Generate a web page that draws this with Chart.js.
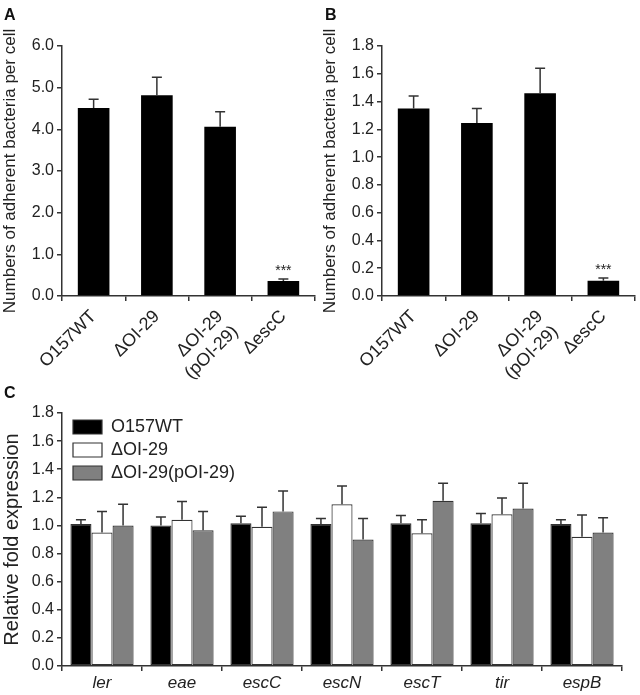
<!DOCTYPE html>
<html>
<head>
<meta charset="utf-8">
<script src="https://cdn.jsdelivr.net/npm/chart.js@4/dist/chart.umd.min.js"></script>
<style>
  body { margin: 0; background: #fff; }
  #wrap { position: relative; width: 640px; height: 695px; background: #fff; font-family: "Liberation Sans", Arial, sans-serif; }
  canvas { position: absolute; }
  .panel { position: absolute; font-weight: bold; font-size: 16px; line-height: 1; color: #111; }
</style>
</head>
<body>
<div id="wrap">
  <canvas id="chartA" width="320" height="380" style="left:0;top:0"></canvas>
  <canvas id="chartB" width="320" height="380" style="left:320px;top:0"></canvas>
  <canvas id="chartC" width="640" height="315" style="left:0;top:380px"></canvas>
  <div class="panel" style="left:4px;top:7px">A</div>
  <div class="panel" style="left:325px;top:7px">B</div>
  <div class="panel" style="left:4px;top:385px">C</div>
</div>
<script>
// ----- DATA -----
const strainsAB = ['O157WT', 'ΔOI-29', ['ΔOI-29', '(pOI-29)'], 'ΔescC'];
const adhesionA = [4.51, 4.82, 4.06, 0.36];
const errorA = [0.21, 0.43, 0.36, 0.05];
const adhesionB = [1.35, 1.245, 1.46, 0.11];
const errorB = [0.09, 0.105, 0.18, 0.02];
const markAB = ['', '', '', '***'];
const yTicksA = [0, 1, 2, 3, 4, 5, 6];
const yTicksB = [0, 0.2, 0.4, 0.6, 0.8, 1.0, 1.2, 1.4, 1.6, 1.8];

const genes = ['ler', 'eae', 'escC', 'escN', 'escT', 'tir', 'espB'];
const seriesNames = ['O157WT', 'ΔOI-29', 'ΔOI-29(pOI-29)'];
const wtExpr = [1.01, 1.00, 1.015, 1.01, 1.015, 1.015, 1.01];
const wtErr = [0.03, 0.06, 0.05, 0.04, 0.055, 0.07, 0.03];
const delExpr = [0.95, 1.04, 0.99, 1.15, 0.945, 1.08, 0.92];
const delErr = [0.15, 0.13, 0.14, 0.13, 0.095, 0.115, 0.155];
const compExpr = [1.00, 0.965, 1.10, 0.90, 1.175, 1.12, 0.95];
const compErr = [0.15, 0.135, 0.145, 0.15, 0.125, 0.18, 0.105];
const yTicksC = [0, 0.2, 0.4, 0.6, 0.8, 1.0, 1.2, 1.4, 1.6, 1.8];

const FONT = '"Liberation Sans", Arial, sans-serif';
const INK = '#222';
const AXIS = '#333';

// ----- error bars + significance marks -----
const errorBars = {
  id: 'errorBars',
  afterDatasetsDraw(chart, args, opts) {
    const ctx = chart.ctx;
    const y = chart.scales.y;
    chart.data.datasets.forEach((ds, di) => {
      const meta = chart.getDatasetMeta(di);
      meta.data.forEach((bar, i) => {
        const top = y.getPixelForValue(ds.data[i] + ds.errors[i]);
        ctx.save();
        ctx.strokeStyle = AXIS;
        ctx.lineWidth = 1.5;
        ctx.beginPath();
        ctx.moveTo(bar.x, bar.y);
        ctx.lineTo(bar.x, top);
        ctx.moveTo(bar.x - opts.cap, top);
        ctx.lineTo(bar.x + opts.cap, top);
        ctx.stroke();
        if (ds.marks && ds.marks[i]) {
          ctx.fillStyle = INK;
          ctx.font = '14px ' + FONT;
          ctx.textAlign = 'center';
          ctx.textBaseline = 'bottom';
          ctx.fillText(ds.marks[i], bar.x, top - 1);
        }
        ctx.restore();
      });
    });
  }
};

// nudge the in-area legend to where the figure has it
const legendShift = {
  id: 'legendShift',
  afterLayout(chart) {
    if (chart.legend && chart.options.plugins.legend.display) {
      chart.legend.left += 6;
      chart.legend.top += 33;
    }
  }
};

function yScale(ticksArr, width) {
  return {
    min: ticksArr[0],
    max: ticksArr[ticksArr.length - 1],
    afterFit: s => { s.width = width; },
    afterBuildTicks: s => { s.ticks = ticksArr.map(v => ({ value: v })); },
    border: { display: true, color: AXIS, width: 1.5 },
    grid: { display: true, drawOnChartArea: false, drawTicks: true, tickLength: 5, color: AXIS, lineWidth: 1.5 },
    ticks: { color: INK, padding: 3, font: { family: FONT, size: 16 }, callback: v => v.toFixed(1) }
  };
}

function adhesionChart(id, values, errors, ticksArr) {
  return new Chart(document.getElementById(id), {
    type: 'bar',
    data: {
      labels: strainsAB,
      datasets: [{
        data: values,
        errors: errors,
        marks: markAB,
        backgroundColor: '#000',
        borderWidth: 0,
        barPercentage: 0.5,
        categoryPercentage: 1.0
      }]
    },
    options: {
      responsive: false,
      animation: false,
      events: [],
      layout: { padding: { top: 46, right: 5, left: 0, bottom: 0 } },
      plugins: {
        legend: { display: false },
        tooltip: { enabled: false },
        errorBars: { cap: 5 }
      },
      scales: {
        x: {
          afterFit: s => { s.height = 84; },
          border: { display: true, color: AXIS, width: 1.5 },
          grid: { display: true, offset: true, drawOnChartArea: false, tickLength: 5, color: AXIS, lineWidth: 1.5 },
          ticks: { color: INK, autoSkip: false, minRotation: 45, maxRotation: 45, padding: 5, font: { family: FONT, size: 18 } }
        },
        y: Object.assign(yScale(ticksArr, 62), {
          title: { display: true, text: 'Numbers of adherent bacteria per cell', color: INK, font: { family: FONT, size: 17 }, padding: { top: 0, bottom: 2 } }
        })
      }
    },
    plugins: [errorBars]
  });
}

adhesionChart('chartA', adhesionA, errorA, yTicksA);
adhesionChart('chartB', adhesionB, errorB, yTicksB);

// ----- panel C: grouped bars -----
const fills = ['#000000', '#ffffff', '#808080'];
const valuesC = [wtExpr, delExpr, compExpr];
const errorsC = [wtErr, delErr, compErr];

new Chart(document.getElementById('chartC'), {
  type: 'bar',
  data: {
    labels: genes,
    datasets: seriesNames.map((name, k) => ({
      label: name,
      data: valuesC[k],
      errors: errorsC[k],
      backgroundColor: fills[k],
      borderColor: AXIS,
      borderWidth: 1.2,
      borderSkipped: false,
      barPercentage: 1.0,
      categoryPercentage: 0.79
    }))
  },
  options: {
    responsive: false,
    animation: false,
    events: [],
    layout: { padding: { top: 33, right: 18, left: 0, bottom: 0 } },
    plugins: {
      legend: {
        display: true,
        position: 'chartArea',
        align: 'start',
        labels: { color: INK, boxWidth: 29, boxHeight: 14, padding: 5, font: { family: FONT, size: 18 } }
      },
      tooltip: { enabled: false },
      errorBars: { cap: 5 }
    },
    scales: {
      x: {
        afterFit: s => { s.height = 29; },
        border: { display: true, color: AXIS, width: 1.5 },
        grid: { display: true, offset: true, drawOnChartArea: false, tickLength: 5, color: AXIS, lineWidth: 1.5 },
        ticks: { color: INK, autoSkip: false, maxRotation: 0, padding: 2, font: { family: FONT, size: 17, style: 'italic' } }
      },
      y: Object.assign(yScale(yTicksC, 62), {
        title: { display: true, text: 'Relative fold expression', color: INK, font: { family: FONT, size: 20 }, padding: { top: 0, bottom: 1 } }
      })
    }
  },
  plugins: [errorBars, legendShift]
});
</script>
</body>
</html>
